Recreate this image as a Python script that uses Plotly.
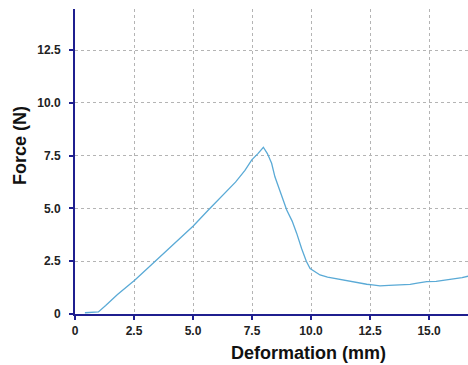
import plotly.graph_objects as go

# Force–deformation curve of the specimen
deformation_mm = [0.42, 0.99, 1.3, 1.8, 2.54, 3.2, 3.8, 4.4, 5.01, 5.65, 6.2, 6.8, 7.2,
                  7.49, 7.75, 7.98, 8.15, 8.33, 8.47, 8.7, 8.97, 9.2, 9.39, 9.6, 9.8, 9.96,
                  10.2, 10.38, 10.7, 10.93, 11.3, 11.7, 12.0, 12.36, 12.6, 12.92, 13.3,
                  13.77, 14.2, 14.5, 14.9, 15.3, 15.75, 16.1, 16.4, 16.7]
force_n = [0.06, 0.1, 0.4, 0.92, 1.61, 2.3, 2.95, 3.55, 4.17, 4.93, 5.55, 6.25, 6.8,
           7.3, 7.6, 7.9, 7.6, 7.14, 6.5, 5.75, 4.93, 4.4, 3.83, 3.1, 2.5, 2.15,
           1.98, 1.85, 1.75, 1.7, 1.62, 1.55, 1.5, 1.41, 1.38, 1.33, 1.36,
           1.37, 1.4, 1.46, 1.53, 1.55, 1.61, 1.66, 1.72, 1.8]

x_ticks = [0, 2.5, 5.0, 7.5, 10.0, 12.5, 15.0]
x_tick_labels = ["0", "2.5", "5.0", "7.5", "10.0", "12.5", "15.0"]
y_ticks = [0, 2.5, 5.0, 7.5, 10.0, 12.5]
y_tick_labels = ["0", "2.5", "5.0", "7.5", "10.0", "12.5"]

axis_color = "#1f1f8f"
grid_color = "#b4b4b4"
font_family = "Liberation Sans, Arial, sans-serif"
title_font = dict(family=font_family, size=18, color="#111111", weight="bold")

fig = go.Figure()
fig.add_trace(go.Scatter(
    x=deformation_mm, y=force_n, mode="lines",
    line=dict(color="#5aaad6", width=1.3),
    showlegend=False,
))

common_axis = dict(
    showline=True, linecolor=axis_color, linewidth=2,
    ticks="outside", ticklen=4, tickwidth=1.5, tickcolor=axis_color,
    showgrid=True, gridcolor=grid_color, griddash="dot", gridwidth=1,
    zeroline=False,
    tickfont=dict(family=font_family, size=12, color="#222222", weight="bold"),
)

fig.update_xaxes(range=[0, 16.65], tickvals=x_ticks, ticktext=x_tick_labels,
                 ticklabelstandoff=1, **common_axis)
fig.update_yaxes(range=[0, 14.45], tickvals=y_ticks, ticktext=y_tick_labels,
                 ticklabelstandoff=6, **common_axis)

# Axis titles
fig.add_annotation(
    text="Deformation (mm)", xref="paper", yref="paper",
    x=0.593, y=-0.128, xanchor="center", yanchor="middle", showarrow=False,
    font=title_font,
)
fig.add_annotation(
    text="Force (N)", xref="paper", yref="paper", textangle=-90,
    x=-0.14, y=0.554, xanchor="center", yanchor="middle", showarrow=False,
    font=title_font,
)

fig.update_layout(
    width=468, height=365,
    margin=dict(l=75, r=0, t=9, b=51),
    paper_bgcolor="white", plot_bgcolor="white",
)

fig.write_html("out.html")
